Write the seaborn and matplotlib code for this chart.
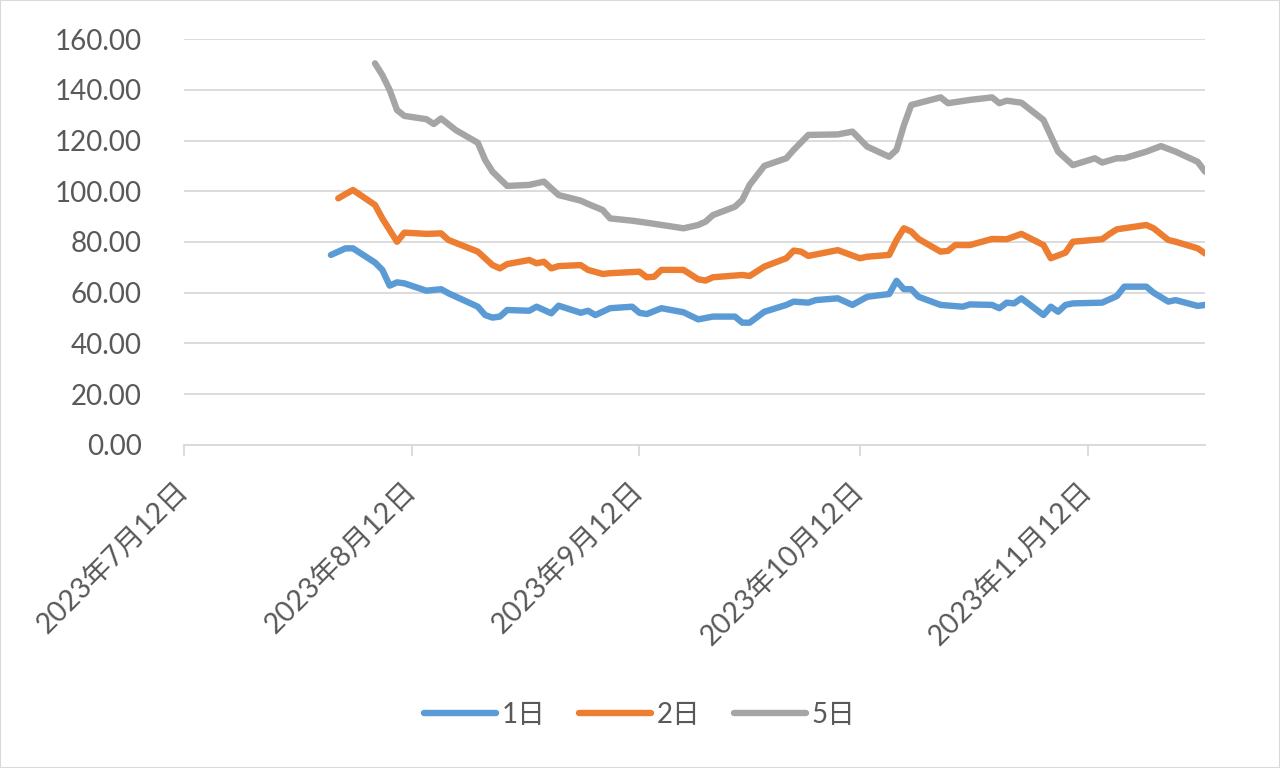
import pandas as pd
import matplotlib.pyplot as plt
import matplotlib.patches as mpatches
import seaborn as sns

# 1日 series
d1_dates = ['2023-08-01', '2023-08-03', '2023-08-04', '2023-08-07', '2023-08-08', '2023-08-09',
            '2023-08-10', '2023-08-11', '2023-08-14', '2023-08-16', '2023-08-17', '2023-08-21',
            '2023-08-22', '2023-08-23', '2023-08-24', '2023-08-25', '2023-08-28', '2023-08-29',
            '2023-08-30', '2023-08-31', '2023-09-01', '2023-09-04', '2023-09-05', '2023-09-06',
            '2023-09-08', '2023-09-11', '2023-09-12', '2023-09-13', '2023-09-15', '2023-09-18',
            '2023-09-20', '2023-09-22', '2023-09-25', '2023-09-26', '2023-09-27', '2023-09-29',
            '2023-10-02', '2023-10-03', '2023-10-05', '2023-10-06', '2023-10-09', '2023-10-11',
            '2023-10-13', '2023-10-16', '2023-10-17', '2023-10-18', '2023-10-19', '2023-10-20',
            '2023-10-23', '2023-10-26', '2023-10-27', '2023-10-30', '2023-10-31', '2023-11-01',
            '2023-11-02', '2023-11-03', '2023-11-06', '2023-11-07', '2023-11-08', '2023-11-09',
            '2023-11-10', '2023-11-14', '2023-11-16', '2023-11-17', '2023-11-20', '2023-11-21',
            '2023-11-23', '2023-11-24', '2023-11-27', '2023-11-28']
d1_vals = [74.9, 77.5, 77.5, 71.9, 69.0, 62.8,
           64.1, 63.7, 60.8, 61.4, 59.8, 54.5,
           51.2, 50.2, 50.6, 53.2, 52.9, 54.5,
           53.2, 51.9, 54.9, 52.1, 52.9, 51.2,
           53.9, 54.5, 52.1, 51.6, 53.9, 52.3,
           49.5, 50.6, 50.6, 48.2, 48.2, 52.5,
           55.2, 56.5, 56.1, 57.1, 57.8, 55.2,
           58.4, 59.5, 64.7, 61.4, 61.4, 58.4,
           55.2, 54.5, 55.4, 55.2, 53.9, 56.1,
           55.8, 57.8, 51.2, 54.5, 52.5, 55.2,
           55.8, 56.1, 58.7, 62.4, 62.4, 60.0,
           56.5, 57.1, 54.8, 55.2]

# 2日 series
d2_dates = ['2023-08-02', '2023-08-03', '2023-08-04', '2023-08-07', '2023-08-08', '2023-08-09',
            '2023-08-10', '2023-08-11', '2023-08-14', '2023-08-16', '2023-08-17', '2023-08-21',
            '2023-08-23', '2023-08-24', '2023-08-25', '2023-08-28', '2023-08-29', '2023-08-30',
            '2023-08-31', '2023-09-01', '2023-09-04', '2023-09-05', '2023-09-07', '2023-09-08',
            '2023-09-12', '2023-09-13', '2023-09-14', '2023-09-15', '2023-09-18', '2023-09-20',
            '2023-09-21', '2023-09-22', '2023-09-26', '2023-09-27', '2023-09-29', '2023-10-02',
            '2023-10-03', '2023-10-04', '2023-10-05', '2023-10-09', '2023-10-12', '2023-10-13',
            '2023-10-16', '2023-10-17', '2023-10-18', '2023-10-19', '2023-10-20', '2023-10-23',
            '2023-10-24', '2023-10-25', '2023-10-27', '2023-10-30', '2023-11-01', '2023-11-03',
            '2023-11-06', '2023-11-07', '2023-11-09', '2023-11-10', '2023-11-14', '2023-11-15',
            '2023-11-16', '2023-11-20', '2023-11-21', '2023-11-23', '2023-11-24', '2023-11-27',
            '2023-11-28']
d2_vals = [97.2, 98.9, 100.5, 94.6, 89.3, 84.7,
           80.1, 83.7, 83.2, 83.4, 80.8, 76.2,
           70.9, 69.6, 71.3, 72.9, 71.6, 72.2,
           69.6, 70.5, 70.9, 69.0, 67.4, 67.7,
           68.3, 66.1, 66.3, 69.0, 69.0, 65.3,
           64.8, 66.1, 67.0, 66.6, 70.3, 73.6,
           76.6, 76.2, 74.5, 76.8, 73.6, 74.2,
           74.9, 80.8, 85.4, 84.1, 81.2, 76.2,
           76.5, 78.8, 78.8, 81.2, 81.1, 83.2,
           78.8, 73.6, 75.8, 80.1, 81.1, 83.2,
           85.0, 86.7, 85.4, 80.8, 80.1, 77.5,
           75.5]

# 5日 series
d5_dates = ['2023-08-07', '2023-08-08', '2023-08-09', '2023-08-10', '2023-08-11', '2023-08-14',
            '2023-08-15', '2023-08-16', '2023-08-18', '2023-08-21', '2023-08-22', '2023-08-23',
            '2023-08-25', '2023-08-28', '2023-08-30', '2023-09-01', '2023-09-04', '2023-09-05',
            '2023-09-07', '2023-09-08', '2023-09-11', '2023-09-13', '2023-09-18', '2023-09-20',
            '2023-09-21', '2023-09-22', '2023-09-25', '2023-09-26', '2023-09-27', '2023-09-29',
            '2023-10-02', '2023-10-03', '2023-10-05', '2023-10-09', '2023-10-11', '2023-10-13',
            '2023-10-16', '2023-10-17', '2023-10-18', '2023-10-19', '2023-10-23', '2023-10-24',
            '2023-10-27', '2023-10-30', '2023-10-31', '2023-11-01', '2023-11-03', '2023-11-06',
            '2023-11-08', '2023-11-10', '2023-11-13', '2023-11-14', '2023-11-16', '2023-11-17',
            '2023-11-20', '2023-11-22', '2023-11-24', '2023-11-27', '2023-11-28']
d5_vals = [150.4, 145.8, 139.9, 132.0, 129.7, 128.4,
           126.5, 128.7, 124.1, 119.1, 112.3, 107.7,
           102.1, 102.5, 103.8, 98.5, 96.3, 95.0,
           92.6, 89.3, 88.4, 87.6, 85.4, 86.7,
           88.0, 90.6, 93.9, 96.6, 102.5, 110.0,
           113.0, 116.3, 122.2, 122.4, 123.5, 117.6,
           113.6, 116.3, 126.0, 134.0, 137.0, 134.7,
           136.0, 137.0, 134.7, 135.7, 134.9, 128.1,
           115.6, 110.3, 113.0, 111.3, 113.0, 113.0,
           115.6, 117.8, 115.6, 111.6, 107.7]

series_names = ['1日', '2日', '5日']
series_colors = ['#5B9BD5', '#ED7D31', '#A5A5A5']
tick_dates = ['2023-07-12', '2023-08-12', '2023-09-12', '2023-10-12', '2023-11-12']
tick_labels = ['2023年7月12日', '2023年8月12日', '2023年9月12日', '2023年10月12日', '2023年11月12日']
y_ticks = [0, 20, 40, 60, 80, 100, 120, 140, 160]

frames = []
for name, dates, vals in zip(series_names, [d1_dates, d2_dates, d5_dates], [d1_vals, d2_vals, d5_vals]):
    frames.append(pd.DataFrame({'date': pd.to_datetime(dates), 'value': vals, 'series': name}))
df = pd.concat(frames, ignore_index=True)

sns.set_style('white')
plt.rcParams['font.family'] = ['Lato', 'Noto Sans CJK SC', 'DejaVu Sans']

fig = plt.figure(figsize=(12.8, 7.68), dpi=100)
ax = fig.add_axes([0.14375, 0.4206, 0.7977, 0.5286])

sns.lineplot(data=df, x='date', y='value', hue='series', hue_order=series_names,
             palette=series_colors, linewidth=4.6, ax=ax, legend=False,
             solid_capstyle='round', solid_joinstyle='round', estimator=None, sort=True)

ax.set_xlim(pd.Timestamp('2023-07-12'), pd.Timestamp('2023-11-28'))
ax.set_ylim(0, 160)
ax.set_yticks(y_ticks)
ax.set_yticklabels([f'{v:.2f}' for v in y_ticks], fontsize=20, color='#595959')
ax.set_xticks(pd.to_datetime(tick_dates))
ax.set_xticklabels(tick_labels, rotation=45, ha='right', va='center', rotation_mode='anchor',
                   fontsize=20.5, color='#595959')
ax.set_xlabel('')
ax.set_ylabel('')

ax.grid(axis='y', color='#d9d9d9', linewidth=1.3)
ax.grid(axis='x', visible=False)
for side in ['left', 'right', 'top']:
    ax.spines[side].set_visible(False)
ax.spines['bottom'].set_color('#d9d9d9')
ax.spines['bottom'].set_linewidth(1.3)
ax.tick_params(axis='x', bottom=True, length=8, width=1.3, color='#d9d9d9', pad=22)
ax.tick_params(axis='y', left=False, pad=27)

handles = [plt.Line2D([0], [0], color=c, linewidth=4.6, solid_capstyle='round') for c in series_colors]
fig.legend(handles, series_names, loc='center', bbox_to_anchor=(0.5, 0.069), ncol=3,
           frameon=False, fontsize=20, handlelength=2.6, handletextpad=0.2,
           columnspacing=1.2, labelcolor='#595959')

fig.patches.append(mpatches.Rectangle((0, 0), 1, 1, transform=fig.transFigure, fill=False,
                                      edgecolor='#d9d9d9', linewidth=1.5))

fig.savefig('out.png', dpi=100)
